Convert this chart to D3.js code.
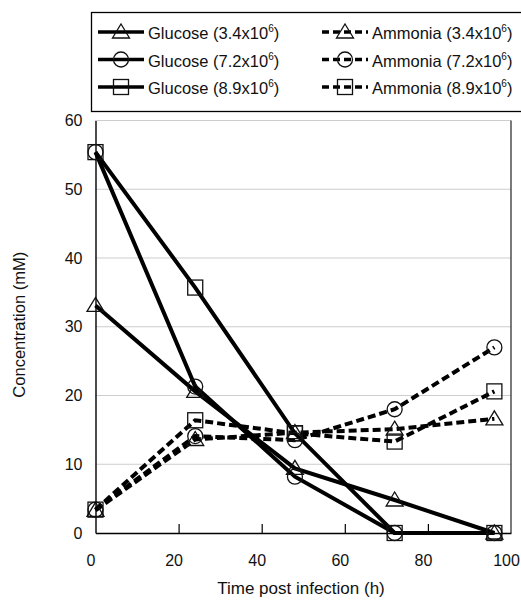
<!DOCTYPE html>
<html>
  <head>
    <meta charset="utf-8">
    <title>Glucose and ammonia concentration</title>
    <style>
      body { margin: 0; background: #fff; }
      svg { display: block; font-family: "Liberation Sans", Arial, sans-serif; }
      .grid line { stroke: #9a9a9a; stroke-width: 1; stroke-dasharray: 1,1; }
    </style>
  </head>
  <body>
    <div id="chart"></div>
    <script src="https://d3js.org/d3.v7.min.js"></script>
    <script>
      // values
      var hours = [0, 24, 48, 72, 96];
      var glucose34 = [33.1, 20.6, 9.4, 4.8, 0];
      var glucose72 = [55.4, 21.3, 8.2, 0, 0];
      var glucose89 = [55.4, 35.7, 14.5, 0, 0];
      var ammonia34 = [3.3, 13.6, 14.6, 15.1, 16.6];
      var ammonia72 = [3.4, 14.1, 13.5, 18.0, 27.0];
      var ammonia89 = [3.4, 16.4, 14.5, 13.3, 20.6];
      var xTicks = [0, 20, 40, 60, 80, 100];
      var yTicks = [0, 10, 20, 30, 40, 50, 60];

      var series = [
        { name: 'Glucose (3.4x10', values: glucose34, marker: 'triangle', dashed: false },
        { name: 'Glucose (7.2x10', values: glucose72, marker: 'circle', dashed: false },
        { name: 'Glucose (8.9x10', values: glucose89, marker: 'square', dashed: false },
        { name: 'Ammonia (3.4x10', values: ammonia34, marker: 'triangle', dashed: true },
        { name: 'Ammonia (7.2x10', values: ammonia72, marker: 'circle', dashed: true },
        { name: 'Ammonia (8.9x10', values: ammonia89, marker: 'square', dashed: true }
      ];

      var width = 521, height = 602;
      var plot = { left: 95.5, right: 511, top: 120.5, bottom: 533 };

      var svg = d3.select('#chart').append('svg')
        .attr('width', width)
        .attr('height', height);

      var x = d3.scaleLinear().domain([0, 100]).range([plot.left, plot.right]);
      var y = d3.scaleLinear().domain([0, 60]).range([plot.bottom, plot.top]);

      // horizontal grid
      svg.append('g').attr('class', 'grid')
        .selectAll('line')
        .data(yTicks.filter(function(d) { return d > 0; }))
        .enter().append('line')
        .attr('x1', plot.left).attr('x2', plot.right)
        .attr('y1', function(d) { return y(d); })
        .attr('y2', function(d) { return y(d); });

      // right border
      svg.append('line')
        .attr('x1', plot.right).attr('x2', plot.right)
        .attr('y1', plot.top).attr('y2', plot.bottom)
        .attr('stroke', '#222').attr('stroke-width', 1.2);

      // x axis with inward ticks
      var xAxis = svg.append('g')
        .attr('transform', 'translate(0,' + plot.bottom + ')')
        .call(d3.axisBottom(x).tickValues(xTicks).tickSizeInner(-9).tickSizeOuter(0).tickPadding(22));
      xAxis.select('.domain').attr('stroke', '#000').attr('stroke-width', 1.4);
      xAxis.selectAll('.tick line').attr('stroke-width', 1.2)
        .filter(function(d) { return d === 0 || d === 100; }).remove();
      xAxis.selectAll('text').attr('font-size', 16).attr('fill', '#111')
        .attr('dx', -5)
        .attr('font-family', '"Liberation Sans", Arial, sans-serif');

      // y axis
      var yAxis = svg.append('g')
        .attr('transform', 'translate(' + plot.left + ',0)')
        .call(d3.axisLeft(y).tickValues(yTicks).tickSize(0).tickPadding(13));
      yAxis.select('.domain').attr('stroke', '#000').attr('stroke-width', 1.4);
      yAxis.selectAll('text').attr('font-size', 16).attr('fill', '#111')
        .attr('font-family', '"Liberation Sans", Arial, sans-serif');

      // axis titles
      svg.append('text')
        .attr('x', 301)
        .attr('y', 594)
        .attr('text-anchor', 'middle')
        .attr('font-size', 17)
        .attr('fill', '#111')
        .text('Time post infection (h)');

      svg.append('text')
        .attr('transform', 'translate(25,' + ((plot.top + plot.bottom) / 2 - 2) + ') rotate(-90)')
        .attr('text-anchor', 'middle')
        .attr('font-size', 16.5)
        .attr('fill', '#111')
        .text('Concentration (mM)');

      function drawMarker(g, type, cx, cy) {
        var m;
        if (type === 'circle') {
          m = g.append('circle').attr('cx', cx).attr('cy', cy).attr('r', 7.5);
        } else if (type === 'square') {
          m = g.append('rect').attr('x', cx - 7.5).attr('y', cy - 7.5).attr('width', 15).attr('height', 15);
        } else {
          m = g.append('path')
            .attr('d', 'M' + cx + ',' + (cy - 8) + 'L' + (cx + 8.5) + ',' + (cy + 6) + 'L' + (cx - 8.5) + ',' + (cy + 6) + 'Z');
        }
        m.attr('fill', 'none').attr('stroke', '#111').attr('stroke-width', 1.3);
      }

      var line = d3.line()
        .x(function(d, i) { return x(hours[i]); })
        .y(function(d) { return y(d); });

      var marks = svg.append('g');
      series.slice().reverse().forEach(function(s) {
        marks.append('path')
          .attr('d', line(s.values))
          .attr('fill', 'none')
          .attr('stroke', '#000')
          .attr('stroke-width', 4)
          .attr('stroke-dasharray', s.dashed ? '8,4' : null);
      });
      series.forEach(function(s) {
        s.values.forEach(function(v, i) {
          drawMarker(marks, s.marker, x(hours[i]), y(v));
        });
      });

      // legend
      var legend = svg.append('g');
      legend.append('rect')
        .attr('x', 91.5).attr('y', 12.5)
        .attr('width', 440).attr('height', 99)
        .attr('fill', '#fff').attr('stroke', '#000').attr('stroke-width', 1.3);

      series.forEach(function(s, i) {
        var col = Math.floor(i / 3), row = i % 3;
        var x0 = col === 0 ? 98 : 322;
        var ly = 32 + row * 27.5;
        var g = legend.append('g');
        g.append('line')
          .attr('x1', x0).attr('x2', x0 + 46)
          .attr('y1', ly).attr('y2', ly)
          .attr('stroke', '#000').attr('stroke-width', 3.5)
          .attr('stroke-dasharray', s.dashed ? '7,4' : null);
        drawMarker(g, s.marker, x0 + 23, ly);
        var t = g.append('text')
          .attr('x', x0 + 50).attr('y', ly + 7)
          .attr('font-size', 16.5).attr('fill', '#111');
        t.append('tspan').text(s.name);
        t.append('tspan').attr('dy', -7).attr('font-size', 10).text('6');
        t.append('tspan').attr('dy', 7).text(')');
      });
    </script>
  </body>
</html>
